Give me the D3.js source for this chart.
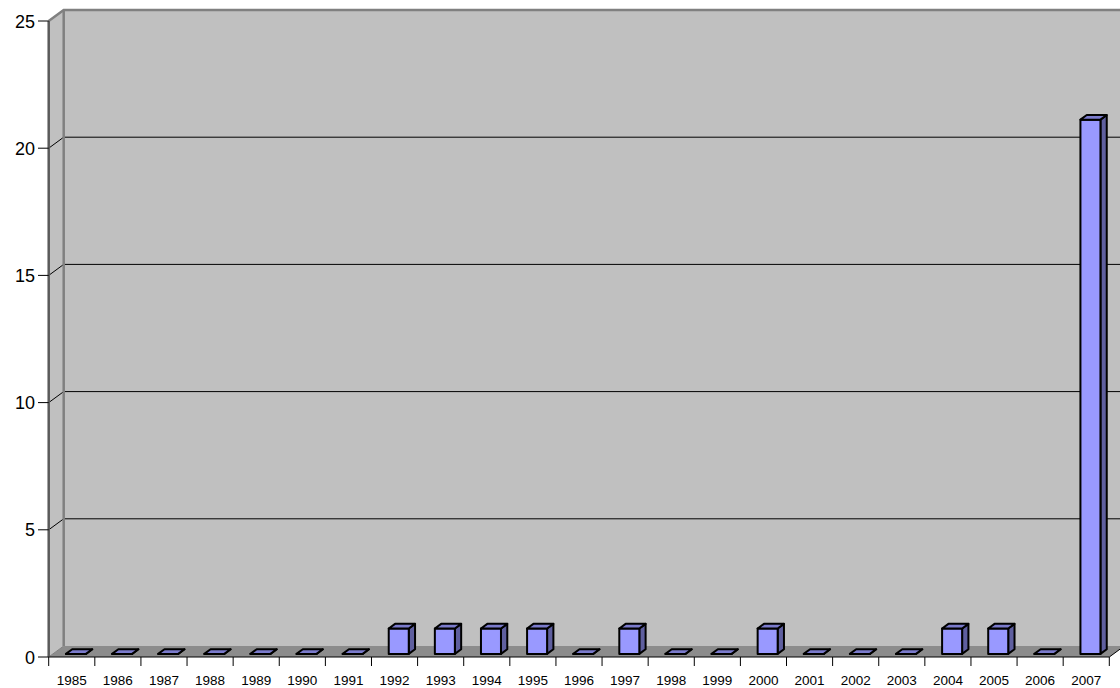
<!DOCTYPE html>
<html>
<head>
<meta charset="utf-8">
<script src="https://cdn.jsdelivr.net/npm/d3@7"></script>
<style>
  html, body { margin: 0; padding: 0; background: #ffffff; }
  svg { display: block; font-family: "Liberation Sans", Arial, sans-serif; }
</style>
</head>
<body>
<svg id="chart" width="1120" height="688"></svg>
<script>
// Yearly counts, 1985–2007
const years = ["1985","1986","1987","1988","1989","1990","1991","1992","1993","1994","1995","1996",
               "1997","1998","1999","2000","2001","2002","2003","2004","2005","2006","2007"];
const counts = [0,0,0,0,0,0,0,1,1,1,1,0,1,0,0,1,0,0,0,1,1,0,21];
const yTicks = [0,5,10,15,20,25];

const W = 1120, H = 688;
const svg = d3.select("#chart");

// front plane of the 3-D box
const x = d3.scaleBand().domain(years).range([48.7, 1109.3]).padding(0);
const y = d3.scaleLinear().domain([0, 25]).range([657, 21]);

// oblique depth offset (front -> back)
const DX = 15, DY = -11;
const depth = z => [DX * z, DY * z];

const x0 = x.range()[0], x1 = x.range()[1];
const yBase = y(0), yTop = y(25);

const wallFill = "#c0c0c0", wallEdge = "#808080", floorFill = "#8c8c8c";

// back wall
svg.append("polygon")
  .attr("points", [[x0 + DX, yTop + DY], [x1 + DX + 20, yTop + DY], [x1 + DX + 20, yBase + DY], [x0 + DX, yBase + DY]].join(" "))
  .attr("fill", wallFill);

// side wall
svg.append("polygon")
  .attr("points", [[x0, yTop], [x0 + DX, yTop + DY], [x0 + DX, yBase + DY], [x0, yBase]].join(" "))
  .attr("fill", wallFill);

// floor
svg.append("polygon")
  .attr("points", [[x0, yBase], [x0 + DX, yBase + DY], [x1 + DX, yBase + DY], [x1, yBase]].join(" "))
  .attr("fill", floorFill);

// gridlines across side wall and back wall
yTicks.filter(v => v > 0 && v < 25).forEach(v => {
  svg.append("polyline")
    .attr("points", [[x0, y(v)], [x0 + DX, y(v) + DY], [W + 10, y(v) + DY]].join(" "))
    .attr("fill", "none").attr("stroke", "#000").attr("stroke-width", 1);
});

// wall edges
svg.append("polyline")
  .attr("points", [[x0, yTop], [x0 + DX, yTop + DY], [W + 10, yTop + DY]].join(" "))
  .attr("fill", "none").attr("stroke", wallEdge).attr("stroke-width", 2.5);
svg.append("line")
  .attr("x1", x0 + DX).attr("y1", yTop + DY).attr("x2", x0 + DX).attr("y2", yBase + DY)
  .attr("stroke", wallEdge).attr("stroke-width", 2.5);
svg.append("line")
  .attr("x1", x0).attr("y1", yTop).attr("x2", x0).attr("y2", yBase)
  .attr("stroke", "#5a5a5a").attr("stroke-width", 2.5);
svg.append("line")
  .attr("x1", x0).attr("y1", yBase).attr("x2", x0 + DX).attr("y2", yBase + DY)
  .attr("stroke", wallEdge).attr("stroke-width", 1);

// bars
const barW = x.bandwidth() * 0.434;
const zFront = 0.28, zBack = 0.7;
const [fdx, fdy] = depth(zFront);
const [bdx, bdy] = depth(zBack);

const bars = svg.append("g").attr("stroke", "#000").attr("stroke-width", 2).attr("stroke-linejoin", "round");
years.forEach((yr, i) => {
  const cx = x(yr) + x.bandwidth() / 2;
  const l = cx - barW / 2, r = cx + barW / 2;
  const t = y(counts[i]), b = y(0);
  const g = bars.append("g");
  // right side face
  g.append("polygon")
    .attr("points", [[r + fdx, t + fdy], [r + bdx, t + bdy], [r + bdx, b + bdy], [r + fdx, b + fdy]].join(" "))
    .attr("fill", "#5f5f9f");
  // front face
  g.append("polygon")
    .attr("points", [[l + fdx, t + fdy], [r + fdx, t + fdy], [r + fdx, b + fdy], [l + fdx, b + fdy]].join(" "))
    .attr("fill", "#9999ff");
  // top face
  g.append("polygon")
    .attr("points", [[l + fdx, t + fdy], [r + fdx, t + fdy], [r + bdx, t + bdy], [l + bdx, t + bdy]].join(" "))
    .attr("fill", "#7b7bcc");
});

// category axis
const xAxis = svg.append("g").attr("stroke", "#000");
xAxis.append("line")
  .attr("x1", x0).attr("y1", yBase).attr("x2", x1).attr("y2", yBase).attr("stroke-width", 1);
xAxis.append("line")
  .attr("x1", x1).attr("y1", yBase).attr("x2", x1 + DX).attr("y2", yBase + DY).attr("stroke-width", 1);
const bounds = years.map(d => x(d)).concat([x1]);
xAxis.selectAll("line.tick").data(bounds).join("line")
  .attr("class", "tick")
  .attr("x1", d => d).attr("x2", d => d)
  .attr("y1", yBase).attr("y2", yBase + 9)
  .attr("stroke-width", 1);
svg.append("g").selectAll("text").data(years).join("text")
  .attr("x", d => x(d) + x.bandwidth() / 2)
  .attr("y", 684.5)
  .attr("text-anchor", "middle")
  .attr("font-size", 13.5)
  .attr("fill", "#000")
  .text(d => d);

// value axis
const yAxis = svg.append("g");
yAxis.selectAll("line").data(yTicks).join("line")
  .attr("x1", 38).attr("x2", x0)
  .attr("y1", d => y(d)).attr("y2", d => y(d))
  .attr("stroke", "#000").attr("stroke-width", 1);
yAxis.selectAll("text").data(yTicks).join("text")
  .attr("x", 35)
  .attr("y", d => y(d) + 6.5)
  .attr("text-anchor", "end")
  .attr("font-size", 18)
  .attr("fill", "#000")
  .text(d => d);
</script>
</body>
</html>
